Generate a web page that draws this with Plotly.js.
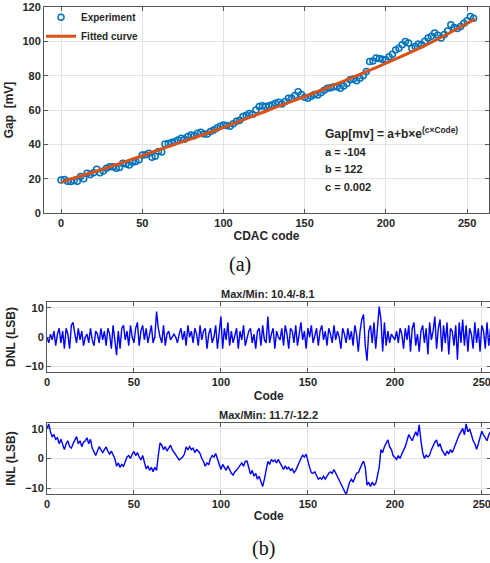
<!DOCTYPE html>
<html>
<head>
<meta charset="utf-8">
<script src="https://cdn.plot.ly/plotly-3.0.1.min.js"></script>
<style>html,body{margin:0;padding:0;background:#fff;overflow:hidden;}#chart{width:500px;height:563px;}</style>
</head>
<body>
<div id="chart"></div>
<script>
// ---- Data ----
// (a) Gap vs CDAC code: experiment points at even codes 0..254
const gapCodes = [];
for (let c = 0; c <= 254; c += 2) gapCodes.push(c);
const gapExperiment = [
  19.2, 19.5, 18.5, 18.3, 19, 18.5, 21.2, 20, 23.1, 22.5, 23.5, 25.5, 23.5, 24.5, 26, 27,
  27, 26, 26.5, 29, 28.5, 28, 29.5, 30, 31, 33.8, 34, 34.8, 32.5, 33, 35.8, 35.5,
  40.2, 40.5, 41, 41.6, 42.5, 43.5, 43, 44.5, 45.5, 45, 46.5, 47, 46, 46, 47.5, 48.4,
  49.5, 50.5, 51.3, 51, 50.6, 52, 53.5, 54, 56.2, 57, 58, 57.5, 60, 62, 62.5, 62,
  62.5, 63, 64, 64.5, 63.5, 65, 66.8, 67, 68.5, 70.7, 69, 67.5, 66.8, 68, 69, 68.8,
  70, 71.5, 72.7, 73, 73.6, 73.5, 72.7, 74, 75.5, 77.6, 78, 77, 78.5, 80, 82.4, 88.3,
  88.5, 90.3, 90, 89.5, 89.3, 91, 92.5, 95, 96, 98, 99.9, 99, 96, 97, 98.5, 98,
  100, 102, 103, 104.8, 103.5, 102, 104, 106, 109.6, 108, 107.5, 108.6, 110.5, 112, 114.5, 113.5
];
const fitCodes = [0, 32, 64, 96, 128, 160, 192, 224, 255];
const fitValues = [18, 27.5, 38, 48.5, 60, 71.5, 84, 97.5, 113];

// (b) DNL and INL per code 0..255
const codes = [];
for (let c = 0; c <= 255; c++) codes.push(c);
const dnl = [
  0, -2, 1, -1, 2, -3, 1, 3, -2, 2, -4, 3, 1, -4, 4, 5,
  1, -2, 3, -1, 2, -3, 0, 1, -2, 3, -1, -3, 2, 1, -2, 3,
  -1, 2, -3, 3, 1, -4, 4, -2, -6.2, 2, -4, 3, 4, -1, 2, -3,
  4, 0, -2, 3, 5, -3, 2, 4, -1, 3, -2, 1, 4, -2, 0, 8.7,
  3, 0, -2, 4, -3, 1, 2, -1, 0, 1, 0, -2, 1, 3, -1, 2,
  -3, 4, 0, 2, -2, 3, 1, -3, 4, -1, 2, 3, -4, 1, 3, -2,
  0, 4, -4, 2, 7, -4, 3, -1, 5, -3, 2, -2, 1, 3, -4, 2,
  -1, 4, -3, 0, 2, 3, -2, 1, -4, 2, 3, -3, 4, -1, -2, 7,
  -2, 1, 3, -4, 2, 0, -1, 3, -3, 4, 1, -4, 3, 2, -2, 4,
  -3, 1, 5, -1, 2, -4, 3, 0, 4, -2, 1, 3, -3, 2, 4, -1,
  2, -3, 3, 1, -2, 4, -1, 2, 0, -4, 3, 1, -2, 3, -1, 2,
  -3, 4, 1, -5, 2, 6, 7.7, -3, -8.1, 2, 4, -2, 5, -4, 3, 10.4,
  6, -5, 5, -3, 2, -2, 1, 0, -1, 2, -2, 3, 1, -4, 3, -1,
  4, -5, 3, 5, -3, 1, -5, 2, 4, -2, 3, -6, 5, -1, 2, 7,
  -4, 3, 6, -5, 4, -2, 5, -6, 3, 2, -3, 4, -7.8, 5, -2, 6,
  -3, 4, -5, 3, 1, -4, 5, -2, 3, -5, 4, 2, -4, 5, -3, 3
];
const inl = [
  10, 11.7, 9, 7.4, 8, 6.5, 7, 5, 6.5, 4.5, 3, 5, 6, 4, 3.5, 5,
  6.5, 7.4, 5, 6, 4, 5.5, 6, 7, 5, 6.5, 3.5, 2.2, 1, 2.5, 4, 3,
  2, 3, 3.9, 2.5, 1.5, 2.5, 1, 0, -2.6, -1.5, -3, -2, -2.6, -1, 0.5, 1,
  0, 1.5, 2.4, 1, 2, 0.5, -0.5, 1, -1, -3.5, -2.5, -4, -3, -4.5, -3, -4,
  1, 5.3, 4.5, 3, 4, 2.5, 3.5, 4.5, 3, 2, 1, 0.5, -0.5, 0, 0.5, 1.5,
  3.9, 3, 4, 3, 3.5, 2, 3, 2.5, 1.7, 0, -1, -2.6, -1.5, -2, 0, 1,
  0.5, 1.7, 0, -2, -3.7, -2, -3, -4, -2.5, -4, -5, -5.6, -4.5, -4, -3, -2,
  -1.5, -2.6, -1, -0.9, -3, -5.3, -4, -6, -5, -7, -6, -8, -9.5, -7, -4, -1,
  -2, -0.3, -1, -0.5, -1.5, -0.3, -1.5, -2.5, -3.7, -2.5, -3.5, -3, -4, -3.5, -4.8, -4,
  -2.5, -1, 0, 1.1, 0.5, 1.5, -1, -3, -4.8, -5, -4.5, -6, -7, -6.5, -7, -6,
  -7, -6, -5, -4.5, -5, -3.7, -5, -6, -7.5, -9, -10.3, -11, -12.2, -10, -8, -7,
  -8, -6.5, -5, -4.8, -3, -2, -0.9, -3, -9, -8, -9.5, -8, -9, -8.5, -5.9, -3,
  3, 2, 4, 5, 6.3, 4, 3, 1, 0.5, -0.3, 1, 0, 1.5, 2.6, 4, 6,
  8.1, 7, 6, 7.6, 9, 7.6, 11.4, 6, 2, 0, 1.1, 0.5, 1.1, 3, 4.5, 5.5,
  6.3, 4, 5, 3, 2, 1, 2.5, 1.5, 3, 2, 3.5, 5, 7, 8, 9, 10.2,
  8, 11.7, 9, 10, 8.1, 6, 5, 3.1, 5, 7, 9.2, 8, 7, 6, 8, 9
];
const gapTicks = [0, 20, 40, 60, 80, 100, 120];
const codeTicks = [0, 50, 100, 150, 200, 250];
const lsbTicks = [-10, 0, 10];

// ---- Styling ----
// The figure is 500 px wide; the 490 px window crops its right edge as in the reference.
const W = 500, H = 563;
const FONT = 'Liberation Sans, Arial, sans-serif';
const TXT = '#262626';
const tickFont = {family: FONT, size: 11, color: TXT, weight: 'bold'};
const titleFont = {family: FONT, size: 12, color: TXT, weight: 'bold'};
function ax(extra) {
  return Object.assign({
    showline: true, linecolor: '#555', linewidth: 1, mirror: 'allticks',
    ticks: 'inside', ticklen: 4, tickcolor: '#555', tickwidth: 1,
    showgrid: true, gridcolor: '#e3e3e3', gridwidth: 1,
    zeroline: false, tickfont: tickFont, tickmode: 'array', fixedrange: true,
    ticklabeloverflow: 'allow'
  }, extra);
}

const traces = [
  {x: gapCodes, y: gapExperiment, type: 'scatter', mode: 'markers', name: 'Experiment',
   xaxis: 'x', yaxis: 'y',
   marker: {symbol: 'circle-open', size: 6, color: '#0072BD', line: {width: 1.5, color: '#0072BD'}}},
  {x: fitCodes, y: fitValues, type: 'scatter', mode: 'lines', name: 'Fitted curve',
   xaxis: 'x', yaxis: 'y', line: {color: '#D95319', width: 3, shape: 'spline'}},
  {x: codes, y: dnl, type: 'scatter', mode: 'lines', name: 'DNL', showlegend: false,
   xaxis: 'x2', yaxis: 'y2', line: {color: '#0000FF', width: 1.4}},
  {x: codes, y: inl, type: 'scatter', mode: 'lines', name: 'INL', showlegend: false,
   xaxis: 'x3', yaxis: 'y3', line: {color: '#0000FF', width: 1.4}}
];

const layout = {
  width: W, height: H,
  margin: {l: 0, r: 0, t: 0, b: 0},
  paper_bgcolor: '#fff', plot_bgcolor: '#fff',
  font: {family: FONT, color: TXT},
  showlegend: true,
  legend: {x: 41/W, y: 0.995, xanchor: 'left', yanchor: 'top', bgcolor: 'rgba(255,255,255,0)',
           font: {family: FONT, size: 10, color: TXT, weight: 'bold'}, itemwidth: 30,
           tracegroupgap: 0, borderwidth: 0},
  xaxis: ax({domain: [44/W, 489/W], range: [-10.5, 263.5], anchor: 'y',
             tickvals: codeTicks, title: {text: 'CDAC code', font: titleFont, standoff: 2}}),
  yaxis: ax({domain: [1 - 213/H, 1 - 7/H], range: [0, 120], anchor: 'x',
             tickvals: gapTicks, title: {text: 'Gap  [mV]', font: titleFont, standoff: 6}}),
  xaxis2: ax({domain: [47/W, 490.5/W], range: [0, 255], anchor: 'y2',
              tickvals: codeTicks, title: {text: 'Code', font: titleFont, standoff: 4}}),
  yaxis2: ax({domain: [1 - 372/H, 1 - 302/H], range: [-12, 12], anchor: 'x2',
              tickvals: lsbTicks, title: {text: 'DNL (LSB)', font: titleFont, standoff: 6}}),
  xaxis3: ax({domain: [47/W, 490.5/W], range: [0, 255], anchor: 'y3',
              tickvals: codeTicks, title: {text: 'Code', font: titleFont, standoff: 2}}),
  yaxis3: ax({domain: [1 - 494/H, 1 - 423/H], range: [-12, 12], anchor: 'x3',
              tickvals: lsbTicks, title: {text: 'INL (LSB)', font: titleFont, standoff: 6}}),
  annotations: [
    {xref: 'x', yref: 'y', x: 161, y: 46.6, xanchor: 'left', yanchor: 'middle', showarrow: false,
     text: 'Gap[mv] = a+b×e<sup>(c×Code)</sup>', font: {family: FONT, size: 12, color: TXT, weight: 'bold'}},
    {xref: 'x', yref: 'y', x: 161, y: 35.6, xanchor: 'left', yanchor: 'middle', showarrow: false,
     text: 'a = -104', font: {family: FONT, size: 11, color: TXT, weight: 'bold'}},
    {xref: 'x', yref: 'y', x: 161, y: 25.7, xanchor: 'left', yanchor: 'middle', showarrow: false,
     text: 'b = 122', font: {family: FONT, size: 11, color: TXT, weight: 'bold'}},
    {xref: 'x', yref: 'y', x: 161, y: 15.2, xanchor: 'left', yanchor: 'middle', showarrow: false,
     text: 'c = 0.002', font: {family: FONT, size: 11, color: TXT, weight: 'bold'}},
    {xref: 'paper', yref: 'paper', x: 240/W, y: 1 - 265/H, xanchor: 'center', yanchor: 'middle',
     showarrow: false, text: '(a)', font: {family: 'Liberation Serif, Times New Roman, serif', size: 20, color: '#111'}},
    {xref: 'paper', yref: 'paper', x: 268/W, y: 1 - 294/H, xanchor: 'center', yanchor: 'middle',
     showarrow: false, text: 'Max/Min: 10.4/-8.1', font: {family: FONT, size: 11, color: TXT, weight: 'bold'}},
    {xref: 'paper', yref: 'paper', x: 268/W, y: 1 - 415/H, xanchor: 'center', yanchor: 'middle',
     showarrow: false, text: 'Max/Min: 11.7/-12.2', font: {family: FONT, size: 11, color: TXT, weight: 'bold'}},
    {xref: 'paper', yref: 'paper', x: 263/W, y: 1 - 548/H, xanchor: 'center', yanchor: 'middle',
     showarrow: false, text: '(b)', font: {family: 'Liberation Serif, Times New Roman, serif', size: 20, color: '#111'}}
  ]
};

Plotly.newPlot('chart', traces, layout, {staticPlot: true, displayModeBar: false});
</script>
</body>
</html>
